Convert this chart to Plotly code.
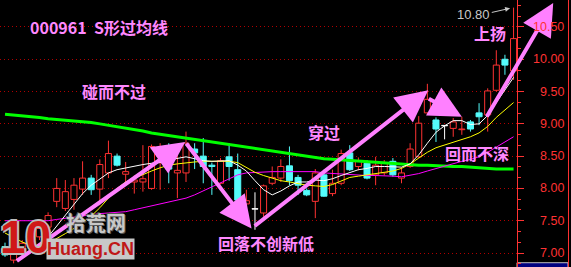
import plotly.graph_objects as go

# ---------------- data ----------------
opens = [7.10, 6.89, 7.02, 7.15, 7.25, 7.40, 7.80, 7.69, 7.83, 7.99,
         8.16, 7.99, 8.24, 8.50, 8.22, 8.10, 8.10, 8.00, 8.50, 8.47,
         8.24, 8.24, 8.61, 8.50, 8.36, 8.08, 8.49, 8.29, 7.76, 7.68,
         7.62, 8.08, 8.16, 8.35, 8.17, 7.97, 7.80, 8.21, 7.92, 8.08,
         8.55, 8.34, 8.39, 8.21, 8.24, 8.42, 8.16, 8.34, 8.49, 9.17,
         9.06, 8.97, 8.93, 8.91, 9.03, 9.17, 9.14, 9.52, 10.00, 9.82]
highs = [7.16, 7.08, 7.20, 7.30, 7.42, 7.63, 8.16, 8.13, 8.16, 8.42,
         8.21, 8.45, 8.74, 8.54, 8.41, 8.20, 8.67, 8.68, 8.70, 8.70,
         8.55, 8.88, 8.70, 8.78, 8.40, 8.47, 8.70, 8.54, 7.98, 7.94,
         8.06, 8.34, 8.45, 8.65, 8.21, 8.00, 8.30, 8.29, 8.29, 8.60,
         8.67, 8.48, 8.44, 8.49, 8.44, 8.47, 8.33, 8.70, 9.12, 9.62,
         9.10, 8.98, 9.09, 9.11, 9.06, 9.32, 9.55, 10.14, 10.07, 10.80]
lows = [6.94, 6.84, 6.98, 7.08, 7.20, 7.36, 7.71, 7.65, 7.67, 7.90,
        7.90, 7.74, 8.16, 8.34, 8.08, 7.92, 7.95, 7.98, 7.98, 8.08,
        7.85, 8.10, 8.30, 8.08, 7.90, 8.06, 8.12, 7.81, 7.69, 7.36,
        7.56, 8.05, 8.10, 8.05, 7.90, 7.88, 7.54, 7.87, 7.88, 8.05,
        8.27, 8.28, 8.14, 8.05, 8.20, 8.18, 8.08, 8.32, 8.47, 9.14,
        8.72, 8.76, 8.80, 8.83, 8.88, 8.98, 8.88, 9.50, 9.76, 9.68]
closes = [6.97, 7.02, 7.15, 7.25, 7.38, 7.58, 8.00, 7.95, 8.05, 8.16,
          7.98, 8.37, 8.54, 8.36, 8.26, 8.13, 8.15, 8.65, 8.62, 8.30,
          8.28, 8.70, 8.55, 8.34, 8.34, 8.43, 8.34, 7.82, 7.81, 7.68,
          8.04, 8.17, 8.34, 8.12, 8.05, 7.90, 8.24, 7.88, 8.08, 8.54,
          8.29, 8.42, 8.16, 8.36, 8.40, 8.21, 8.24, 8.61, 9.01, 9.38,
          8.92, 8.97, 9.03, 8.92, 8.92, 9.11, 9.51, 9.91, 9.91, 10.32]

ma_white = [7.05, 7.02, 7.00, 7.02, 7.10, 7.25, 7.42, 7.58, 7.76, 7.92,
            8.05, 8.15, 8.24, 8.29, 8.32, 8.34, 8.37, 8.39, 8.40, 8.44,
            8.47, 8.49, 8.46, 8.43, 8.42, 8.42, 8.43, 8.36, 8.27, 8.12,
            7.98, 7.90, 7.96, 8.04, 8.10, 8.10, 8.13, 8.12, 8.15, 8.20,
            8.25, 8.29, 8.31, 8.34, 8.34, 8.33, 8.33, 8.38, 8.52, 8.70,
            8.87, 8.97, 9.05, 9.05, 8.99, 9.00, 9.13, 9.33, 9.53, 9.72]
ma_yellow = [7.31, 7.24, 7.17, 7.12, 7.12, 7.15, 7.22, 7.30, 7.38, 7.47,
             7.57, 7.70, 7.85, 8.00, 8.10, 8.16, 8.21, 8.27, 8.32, 8.36,
             8.38, 8.40, 8.41, 8.42, 8.42, 8.42, 8.42, 8.40, 8.33, 8.25,
             8.20, 8.16, 8.12, 8.10, 8.07, 8.05, 8.04, 8.03, 8.06, 8.12,
             8.17, 8.19, 8.21, 8.22, 8.24, 8.27, 8.31, 8.38, 8.47, 8.56,
             8.63, 8.67, 8.72, 8.76, 8.80, 8.86, 8.96, 9.10, 9.22, 9.33]
ma_magenta = [7.50, 7.50, 7.50, 7.50, 7.50, 7.50, 7.52, 7.54, 7.56, 7.58,
              7.60, 7.61, 7.62, 7.63, 7.64, 7.67, 7.70, 7.73, 7.75, 7.78,
              7.81, 7.85, 7.90, 7.96, 8.03, 8.09, 8.15, 8.21, 8.24, 8.25,
              8.26, 8.26, 8.26, 8.26, 8.26, 8.26, 8.26, 8.24, 8.23, 8.22,
              8.21, 8.21, 8.20, 8.20, 8.20, 8.19, 8.18, 8.20, 8.23, 8.27,
              8.31, 8.35, 8.39, 8.42, 8.45, 8.49, 8.56, 8.64, 8.72, 8.80]
ma_green = [9.15, 9.14, 9.12, 9.11, 9.10, 9.08, 9.07, 9.06, 9.04, 9.03,
            9.02, 9.00, 8.98, 8.96, 8.94, 8.92, 8.89, 8.86, 8.84, 8.82,
            8.80, 8.78, 8.76, 8.74, 8.72, 8.70, 8.68, 8.65, 8.63, 8.61,
            8.59, 8.57, 8.55, 8.53, 8.51, 8.49, 8.48, 8.46, 8.45, 8.44,
            8.43, 8.42, 8.41, 8.40, 8.39, 8.38, 8.37, 8.36, 8.36, 8.36,
            8.35, 8.35, 8.34, 8.34, 8.33, 8.31, 8.31, 8.30, 8.30, 8.30]

tick_values = [7.00, 7.50, 8.00, 8.50, 9.00, 9.50, 10.00, 10.50]
tick_labels = ["7.00", "7.50", "8.00", "8.50", "9.00", "9.50", "10.00", "10.50"]

title_text = "000961  S形过均线"
notes = [  # (text, candle index, price)
    ("碰而不过", 12.7, 9.51),
    ("穿过", 37.0, 8.88),
    ("回而不深", 54.8, 8.55),
    ("上扬", 56.3, 10.41),
    ("回落不创新低", 30.3, 7.15),
]
arrows = [  # (tail index, tail price, tip index, tip price)
    (1.2, 6.86, 20.9, 8.72),
    (20.9, 8.72, 28.6, 7.38),
    (28.8, 7.40, 49.1, 9.52),
    (49.0, 9.40, 53.0, 9.11),
    (55.8, 9.09, 63.6, 10.87),
]
high_label = "10.80"

# ---------------- styles ----------------
RED = "#ff3232"
CYAN = "#54fcfc"
WHITE = "#ffffff"
PINK = "#ff88ff"
GRID = "#b00000"

n = len(opens)
idx = list(range(n))
up = [i for i in idx if closes[i] > opens[i]]
dn = [i for i in idx if closes[i] < opens[i]]
dj = [i for i in idx if closes[i] == opens[i]]

fig = go.Figure()


def bodies(sel, fill, line):
    base = [min(opens[i], closes[i]) for i in sel]
    hgt = [max(abs(closes[i] - opens[i]), 0.006) for i in sel]
    fig.add_trace(go.Bar(x=sel, y=hgt, base=base, width=0.7,
                         marker=dict(color=fill, line=dict(color=line, width=1)),
                         hoverinfo="skip", showlegend=False))


def wicks(sel, color):
    xs, ys = [], []
    for i in sel:
        top = max(opens[i], closes[i])
        bot = min(opens[i], closes[i])
        xs += [i, i, None, i, i, None]
        ys += [highs[i], top, None, bot, lows[i], None]
    fig.add_trace(go.Scatter(x=xs, y=ys, mode="lines",
                             line=dict(color=color, width=1),
                             hoverinfo="skip", showlegend=False))


bodies(up, "#000000", RED)
bodies(dn, CYAN, CYAN)
bodies(dj, WHITE, WHITE)
wicks(up, RED)
wicks(dn, CYAN)
wicks(dj, WHITE)

for vals, col, w in [(ma_green, "#00ff00", 3), (ma_magenta, "#ff00ff", 1),
                     (ma_yellow, "#ffff00", 1), (ma_white, "#ffffff", 1)]:
    fig.add_trace(go.Scatter(x=idx, y=vals, mode="lines",
                             line=dict(color=col, width=w),
                             hoverinfo="skip", showlegend=False))

ann = []
cjk = dict(family="Noto Sans CJK SC", size=16, color=PINK, weight="bold")
ann.append(dict(x=2.67, y=10.50, xref="x", yref="y", text=title_text,
                showarrow=False, xanchor="left", yanchor="middle", font=cjk))
for t, xi, yp in notes:
    ann.append(dict(x=xi, y=yp, xref="x", yref="y", text=t, showarrow=False,
                    xanchor="center", yanchor="middle", font=cjk))
for tx, ty, hx, hy in arrows:
    ann.append(dict(x=hx, y=hy, ax=tx, ay=ty, xref="x", yref="y",
                    axref="x", ayref="y", text="", showarrow=True,
                    arrowhead=2, arrowsize=1.6, arrowwidth=4,
                    arrowcolor="#ff80ff", standoff=0, startstandoff=0))
# high price marker
ann.append(dict(x=54.3, y=10.70, xref="x", yref="y", text=high_label,
                showarrow=False, font=dict(family="Liberation Sans", size=13,
                                           color="#c8c8c8")))
ann.append(dict(x=58.6, y=10.79, ax=56.3, ay=10.72, xref="x", yref="y",
                axref="x", ayref="y", text="", showarrow=True, arrowhead=2,
                arrowsize=1, arrowwidth=1, arrowcolor="#c8c8c8",
                standoff=0, startstandoff=0))
# right axis labels, right aligned
for v, lab in zip(tick_values, tick_labels):
    ann.append(dict(x=1, y=v, xref="paper", yref="y", text=lab,
                    showarrow=False, xanchor="right", yanchor="middle",
                    xshift=49, font=dict(family="Liberation Sans", size=12.5,
                                         color=RED)))
# watermark
ann.append(dict(x=0.050, y=0.112, xref="paper", yref="paper", text="<b>10</b>",
                showarrow=False, xanchor="center", yanchor="middle",
                font=dict(family="Liberation Sans", size=46, color="#d01818",
                          shadow="2px 0 0 #bdbdbd, -2px 0 0 #bdbdbd, 0 2px 0 #bdbdbd, 0 -2px 0 #bdbdbd")))
ann.append(dict(x=0.186, y=0.165, xref="paper", yref="paper", text="拾荒网",
                showarrow=False, xanchor="center", yanchor="middle",
                font=dict(family="Noto Sans CJK SC", size=20, color="#c8c8c8",
                          weight="bold",
                          shadow="1px 1px 0 #555, -1px -1px 0 #555")))
ann.append(dict(x=0.176, y=0.068, xref="paper", yref="paper", text="<b>Huang.CN</b>",
                showarrow=False, xanchor="center", yanchor="middle",
                bgcolor="#c8c8c8", borderpad=0,
                font=dict(family="Liberation Sans", size=18, color="#c01818")))
# cursor price box at the bottom right
ann.append(dict(x=1, y=0.011, xref="paper", yref="paper", text="6.89",
                showarrow=False, xanchor="left", yanchor="top", xshift=3,
                font=dict(family="Liberation Sans", size=13, color="#d0d0d0")))

shapes = [
    dict(type="line", xref="paper", yref="paper", x0=1.0996, x1=1.0996,
         y0=0, y1=1, line=dict(color=RED, width=1)),
    dict(type="rect", xref="paper", yref="paper", x0=1.0, x1=1.0986,
         y0=-0.01, y1=0.016, fillcolor="#000080",
         line=dict(color="#c0c0c0", width=1), layer="below"),
]

fig.update_layout(
    width=571, height=267,
    margin=dict(l=0, r=54, t=0, b=0, pad=0),
    paper_bgcolor="#000000", plot_bgcolor="#000000",
    barmode="overlay", showlegend=False,
    annotations=ann, shapes=shapes,
    xaxis=dict(range=[-0.58, 59.40], visible=False, fixedrange=True),
    yaxis=dict(range=[6.7833, 10.918], side="right", showgrid=True,
               gridcolor=GRID, griddash="1px,3px", gridwidth=1,
               zeroline=False, showline=True, linecolor=RED, linewidth=1,
               tickvals=tick_values, ticks="outside", ticklen=6,
               tickcolor=RED, showticklabels=False,
               minor=dict(dtick=0.5 / 3, tick0=7.0, ticks="outside",
                          ticklen=3, tickcolor=RED, showgrid=False)),
)

fig.write_html("out.html")
